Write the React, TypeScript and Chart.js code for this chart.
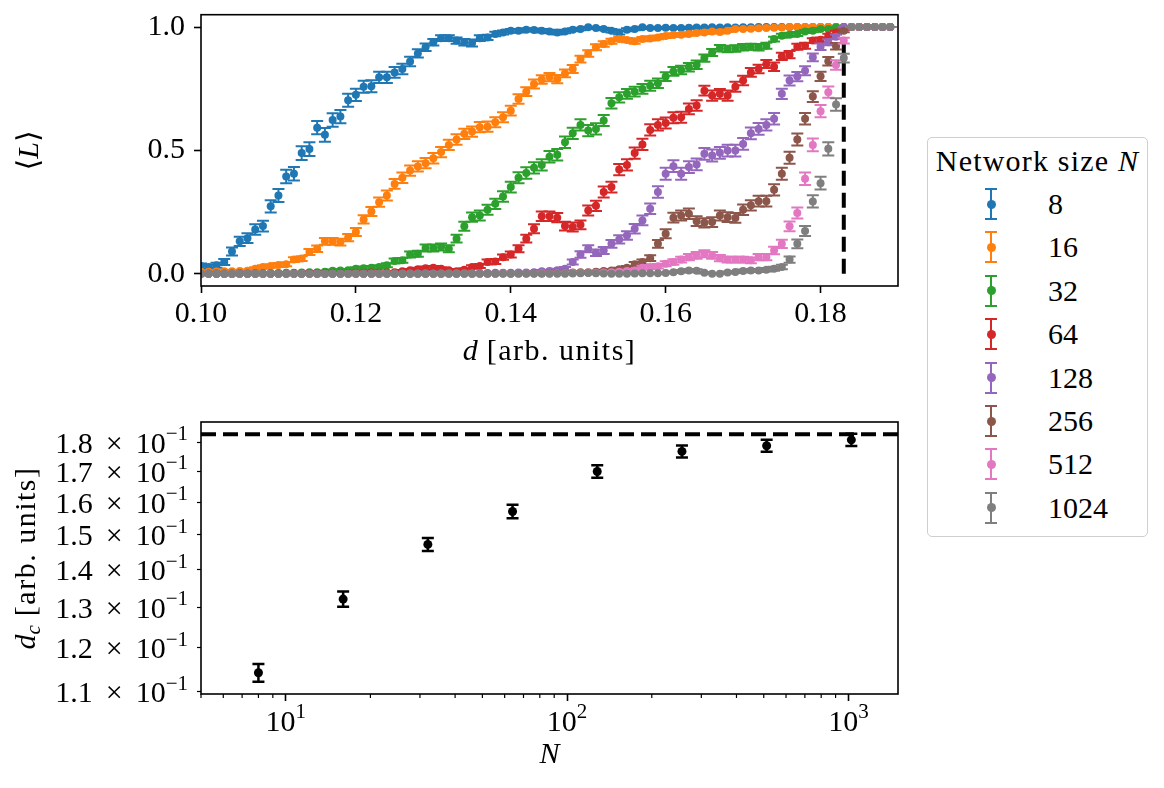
import React, { useEffect, useRef } from 'react';
import { Chart, registerables } from 'chart.js';

Chart.register(...registerables);

const FONT = "'Liberation Serif', 'DejaVu Serif', serif";
const FS = 30;
const TEXT_LS = 1.5;

// ---------- top panel: <L> versus d ----------
const D_VALUES = [
  0.100, 0.101, 0.102, 0.103, 0.104, 0.105, 0.106, 0.107, 0.108, 0.109,
  0.110, 0.111, 0.112, 0.113, 0.114, 0.115, 0.116, 0.117, 0.118, 0.119,
  0.120, 0.121, 0.122, 0.123, 0.124, 0.125, 0.126, 0.127, 0.128, 0.129,
  0.130, 0.131, 0.132, 0.133, 0.134, 0.135, 0.136, 0.137, 0.138, 0.139,
  0.140, 0.141, 0.142, 0.143, 0.144, 0.145, 0.146, 0.147, 0.148, 0.149,
  0.150, 0.151, 0.152, 0.153, 0.154, 0.155, 0.156, 0.157, 0.158, 0.159,
  0.160, 0.161, 0.162, 0.163, 0.164, 0.165, 0.166, 0.167, 0.168, 0.169,
  0.170, 0.171, 0.172, 0.173, 0.174, 0.175, 0.176, 0.177, 0.178, 0.179,
  0.180, 0.181, 0.182, 0.183, 0.184, 0.185, 0.186, 0.187, 0.188, 0.189,
];

const L_N8 = [
  0.031, 0.027, 0.034, 0.047, 0.090, 0.131, 0.144, 0.179, 0.193, 0.273,
  0.317, 0.394, 0.405, 0.489, 0.505, 0.592, 0.563, 0.623, 0.637, 0.703,
  0.725, 0.758, 0.760, 0.796, 0.796, 0.816, 0.830, 0.860, 0.893, 0.918,
  0.938, 0.955, 0.955, 0.945, 0.938, 0.935, 0.955, 0.958, 0.972, 0.978,
  0.985, 0.985, 0.989, 0.988, 0.985, 0.982, 0.978, 0.982, 0.989, 0.992,
  0.999, 0.996, 0.992, 0.985, 0.978, 0.989, 0.992, 0.999, 0.996, 0.996,
  0.997, 0.996, 0.996, 0.997, 0.998, 0.998, 0.999, 0.998, 0.999, 0.998,
  0.999, 0.999, 1, 1, 1, 1, 1, 1, 1, 1,
  1, 1, 1, 1, 1, 1, 1, 1, 1, 1,
];
const E_N8 = [
  10, 9, 10, 12, 16, 19, 20, 21, 22, 25,
  26, 27, 27, 28, 28, 27, 28, 27, 27, 26,
  25, 24, 24, 23, 23, 22, 21, 19, 17, 15,
  13, 12, 12, 13, 13, 14, 12, 11, 9, 8,
  7, 7, 6, 6, 7, 7, 8, 7, 6, 5,
  2, 4, 5, 7, 8, 6, 5, 2, 4, 4,
  3, 4, 4, 3, 3, 3, 2, 3, 2, 3,
  2, 2, 0, 0, 0, 0, 0, 0, 0, 0,
  0, 0, 0, 0, 0, 0, 0, 0, 0, 0,
];

const L_N16 = [
  0.008, 0.008, 0.009, 0.010, 0.010, 0.011, 0.012, 0.020, 0.027, 0.031,
  0.035, 0.038, 0.057, 0.061, 0.088, 0.101, 0.131, 0.131, 0.128, 0.146,
  0.169, 0.220, 0.252, 0.290, 0.317, 0.364, 0.389, 0.418, 0.435, 0.448,
  0.468, 0.493, 0.522, 0.544, 0.567, 0.576, 0.594, 0.596, 0.614, 0.634,
  0.661, 0.708, 0.738, 0.769, 0.787, 0.797, 0.789, 0.812, 0.830, 0.870,
  0.893, 0.918, 0.931, 0.942, 0.951, 0.947, 0.942, 0.951, 0.954, 0.958,
  0.964, 0.968, 0.969, 0.972, 0.976, 0.978, 0.982, 0.980, 0.985, 0.992,
  0.992, 0.993, 0.995, 0.996, 0.997, 0.998, 1, 1, 1, 1,
  1, 1, 1, 1, 1, 1, 1, 1, 1, 1,
];
const E_N16 = [
  4, 4, 4, 4, 4, 4, 5, 6, 7, 7,
  8, 8, 10, 10, 12, 13, 14, 14, 14, 15,
  16, 17, 18, 19, 20, 20, 21, 21, 21, 21,
  21, 21, 21, 21, 21, 21, 21, 21, 20, 20,
  20, 19, 18, 18, 17, 17, 17, 16, 16, 14,
  13, 12, 11, 10, 9, 9, 10, 9, 9, 8,
  8, 7, 7, 7, 6, 6, 6, 6, 5, 4,
  4, 4, 3, 3, 2, 2, 0, 0, 0, 0,
  0, 0, 0, 0, 0, 0, 0, 0, 0, 0,
];

const L_N32 = [
  0.000, 0.001, 0.000, 0.001, 0.001, 0.002, 0.001, 0.002, 0.002, 0.003,
  0.003, 0.004, 0.004, 0.005, 0.006, 0.006, 0.008, 0.012, 0.013, 0.014,
  0.020, 0.022, 0.024, 0.027, 0.034, 0.051, 0.054, 0.078, 0.081, 0.104,
  0.104, 0.108, 0.101, 0.142, 0.192, 0.229, 0.236, 0.259, 0.283, 0.313,
  0.351, 0.389, 0.408, 0.429, 0.441, 0.474, 0.482, 0.533, 0.569, 0.603,
  0.580, 0.587, 0.621, 0.691, 0.715, 0.729, 0.738, 0.749, 0.762, 0.772,
  0.799, 0.820, 0.826, 0.837, 0.847, 0.874, 0.897, 0.914, 0.911, 0.913,
  0.918, 0.920, 0.918, 0.924, 0.951, 0.965, 0.969, 0.972, 0.982, 0.985,
  0.992, 0.992, 0.999, 1, 1, 1, 1, 1, 1, 1,
];
const E_N32 = [
  0, 1, 0, 1, 1, 2, 1, 2, 2, 3,
  3, 3, 3, 3, 4, 4, 4, 5, 5, 5,
  6, 7, 7, 7, 8, 10, 10, 12, 12, 14,
  14, 14, 14, 16, 18, 19, 20, 20, 21, 21,
  22, 22, 23, 23, 23, 23, 23, 23, 23, 23,
  23, 23, 22, 21, 21, 20, 20, 20, 20, 19,
  18, 18, 17, 17, 17, 15, 14, 13, 13, 13,
  13, 12, 13, 12, 10, 8, 8, 8, 6, 6,
  4, 4, 1, 0, 0, 0, 0, 0, 0, 0,
];

const L_N64 = [
  0.000, 0.000, 0.001, 0.000, 0.000, 0.001, 0.000, 0.001, 0.001, 0.000,
  0.001, 0.001, 0.002, 0.001, 0.002, 0.002, 0.003, 0.002, 0.003, 0.003,
  0.004, 0.004, 0.005, 0.004, 0.005, 0.006, 0.010, 0.014, 0.018, 0.022,
  0.024, 0.020, 0.014, 0.010, 0.016, 0.027, 0.031, 0.047, 0.049, 0.067,
  0.078, 0.101, 0.142, 0.182, 0.233, 0.233, 0.227, 0.193, 0.189, 0.198,
  0.256, 0.275, 0.331, 0.351, 0.422, 0.441, 0.489, 0.524, 0.583, 0.603,
  0.611, 0.632, 0.634, 0.668, 0.682, 0.742, 0.722, 0.729, 0.722, 0.758,
  0.783, 0.816, 0.830, 0.850, 0.839, 0.881, 0.888, 0.920, 0.924, 0.945,
  0.948, 0.965, 0.978, 0.992, 1, 1, 1, 1, 1, 1,
];
const E_N64 = [
  0, 0, 1, 0, 0, 1, 0, 1, 1, 0,
  1, 1, 2, 1, 2, 2, 3, 2, 3, 3,
  3, 3, 3, 3, 3, 4, 5, 5, 6, 7,
  7, 6, 5, 5, 6, 7, 8, 10, 10, 11,
  12, 14, 16, 18, 19, 19, 19, 18, 18, 18,
  20, 21, 22, 22, 23, 23, 23, 23, 23, 23,
  22, 22, 22, 22, 21, 20, 21, 20, 21, 20,
  19, 18, 17, 16, 17, 15, 15, 12, 12, 10,
  10, 8, 7, 4, 0, 0, 0, 0, 0, 0,
];

const L_N128 = [
  0, 0, 0, 0, 0, 0, 0, 0, 0, 0,
  0, 0, 0, 0, 0, 0, 0, 0, 0, 0,
  0.001, 0, 0.001, 0, 0.001, 0.001, 0, 0.001, 0.001, 0.002,
  0.001, 0.002, 0.002, 0.002, 0.003, 0.002, 0.003, 0.003, 0.004, 0.004,
  0.004, 0.005, 0.005, 0.006, 0.010, 0.011, 0.014, 0.020, 0.047, 0.078,
  0.101, 0.085, 0.094, 0.121, 0.139, 0.155, 0.182, 0.216, 0.263, 0.331,
  0.405, 0.436, 0.405, 0.432, 0.443, 0.486, 0.479, 0.490, 0.499, 0.499,
  0.526, 0.569, 0.587, 0.603, 0.628, 0.729, 0.783, 0.799, 0.823, 0.877,
  0.920, 0.938, 0.961, 0.999, 1, 1, 1, 1, 1, 1,
];
const E_N128 = [
  0, 0, 0, 0, 0, 0, 0, 0, 0, 0,
  0, 0, 0, 0, 0, 0, 0, 0, 0, 0,
  1, 0, 1, 0, 1, 1, 0, 1, 1, 2,
  1, 2, 2, 2, 3, 2, 3, 3, 3, 3,
  3, 3, 3, 4, 5, 5, 6, 7, 10, 13,
  14, 13, 14, 16, 17, 17, 19, 20, 21, 23,
  24, 24, 24, 24, 24, 24, 24, 24, 24, 24,
  24, 24, 24, 23, 23, 21, 20, 19, 18, 16,
  13, 12, 9, 2, 0, 0, 0, 0, 0, 0,
];

const L_N256 = [
  0, 0, 0, 0, 0, 0, 0, 0, 0, 0,
  0, 0, 0, 0, 0, 0, 0, 0, 0, 0,
  0, 0, 0, 0, 0, 0, 0, 0, 0, 0,
  0, 0, 0.001, 0, 0.001, 0, 0.001, 0.001, 0.001, 0.002,
  0.001, 0.002, 0.002, 0.003, 0.002, 0.003, 0.004, 0.004, 0.005, 0.006,
  0.006, 0.008, 0.011, 0.013, 0.018, 0.024, 0.038, 0.047, 0.063, 0.121,
  0.162, 0.227, 0.236, 0.243, 0.213, 0.206, 0.209, 0.236, 0.229, 0.226,
  0.259, 0.277, 0.294, 0.294, 0.340, 0.405, 0.470, 0.544, 0.628, 0.718,
  0.800, 0.861, 0.922, 0.985, 1, 1, 1, 1, 1, 1,
];
const E_N256 = [
  0, 0, 0, 0, 0, 0, 0, 0, 0, 0,
  0, 0, 0, 0, 0, 0, 0, 0, 0, 0,
  0, 0, 0, 0, 0, 0, 0, 0, 0, 0,
  0, 0, 1, 0, 1, 0, 1, 1, 1, 2,
  1, 2, 2, 3, 2, 3, 3, 3, 3, 4,
  4, 4, 5, 5, 6, 7, 9, 10, 12, 16,
  18, 20, 20, 21, 20, 19, 20, 20, 20, 20,
  21, 21, 22, 22, 23, 24, 24, 24, 23, 22,
  19, 17, 13, 6, 0, 0, 0, 0, 0, 0,
];

const L_N512 = [
  0, 0, 0, 0, 0, 0, 0, 0, 0, 0,
  0, 0, 0, 0, 0, 0, 0, 0, 0, 0,
  0, 0, 0, 0, 0, 0, 0, 0, 0, 0,
  0, 0, 0, 0, 0, 0, 0, 0, 0, 0.001,
  0, 0.001, 0.001, 0.001, 0.002, 0.001, 0.002, 0.002, 0.003, 0.003,
  0.004, 0.004, 0.005, 0.006, 0.008, 0.011, 0.013, 0.024, 0.027, 0.030,
  0.040, 0.047, 0.057, 0.067, 0.074, 0.081, 0.074, 0.063, 0.057, 0.057,
  0.057, 0.054, 0.067, 0.067, 0.094, 0.121, 0.192, 0.246, 0.385, 0.522,
  0.659, 0.736, 0.846, 0.945, 1, 1, 1, 1, 1, 1,
];
const E_N512 = [
  0, 0, 0, 0, 0, 0, 0, 0, 0, 0,
  0, 0, 0, 0, 0, 0, 0, 0, 0, 0,
  0, 0, 0, 0, 0, 0, 0, 0, 0, 0,
  0, 0, 0, 0, 0, 0, 0, 0, 0, 1,
  0, 1, 1, 1, 2, 1, 2, 2, 3, 3,
  3, 3, 4, 4, 5, 5, 6, 8, 8, 9,
  10, 11, 12, 13, 14, 14, 14, 13, 12, 12,
  12, 12, 13, 13, 15, 17, 20, 22, 25, 26,
  25, 23, 19, 12, 0, 0, 0, 0, 0, 0,
];

const L_N1024 = [
  0, 0, 0, 0, 0, 0, 0, 0, 0, 0,
  0, 0, 0, 0, 0, 0, 0, 0, 0, 0,
  0, 0, 0, 0, 0, 0, 0, 0, 0, 0,
  0, 0, 0, 0, 0, 0, 0, 0, 0, 0,
  0, 0, 0, 0, 0, 0, 0, 0, 0.001, 0.002,
  0.003, 0.002, 0.001, 0, 0, 0, 0.001, 0.002, 0.002, 0.002,
  0.003, 0.006, 0.010, 0.013, 0.012, 0.004, 0.000, 0.000, 0.005, 0.007,
  0.011, 0.013, 0.013, 0.016, 0.020, 0.027, 0.057, 0.121, 0.173, 0.293,
  0.367, 0.506, 0.686, 0.874, 1, 1, 1, 1, 1, 1,
];
const E_N1024 = [
  0, 0, 0, 0, 0, 0, 0, 0, 0, 0,
  0, 0, 0, 0, 0, 0, 0, 0, 0, 0,
  0, 0, 0, 0, 0, 0, 0, 0, 0, 0,
  0, 0, 0, 0, 0, 0, 0, 0, 0, 0,
  0, 0, 0, 0, 0, 0, 0, 0, 1, 1,
  2, 1, 1, 0, 0, 0, 1, 1, 1, 1,
  2, 3, 5, 6, 6, 3, 0, 0, 4, 4,
  6, 6, 6, 7, 8, 9, 13, 18, 20, 25,
  26, 27, 25, 18, 0, 0, 0, 0, 0, 0,
];

const SIZE_LABELS = ['8', '16', '32', '64', '128', '256', '512', '1024'];
const SERIES_COLORS = ['#1f77b4', '#ff7f0e', '#2ca02c', '#d62728', '#9467bd', '#8c564b', '#e377c2', '#7f7f7f'];
const SERIES_VALUES = [L_N8, L_N16, L_N32, L_N64, L_N128, L_N256, L_N512, L_N1024];
const SERIES_ERRORS_MILLI = [E_N8, E_N16, E_N32, E_N64, E_N128, E_N256, E_N512, E_N1024];

const TOP_X_TICKS = [0.10, 0.12, 0.14, 0.16, 0.18];
const TOP_Y_TICKS = [0.0, 0.5, 1.0];

// ---------- bottom panel: d_c versus N ----------
const N_SIZES = [8, 16, 32, 64, 128, 256, 512, 1024];
const DC_VALUES = [0.1142, 0.1321, 0.1472, 0.1571, 0.1700, 0.1769, 0.1789, 0.1810];
const DC_ERRORS = [0.0020, 0.0020, 0.0019, 0.0021, 0.0021, 0.0021, 0.0021, 0.0022];
const DC_INF = 0.183;
const BOTTOM_X_TICKS = [10, 100, 1000];
const BOTTOM_X_MINOR = [5, 6, 7, 8, 9, 20, 30, 40, 50, 60, 70, 80, 90, 200, 300, 400, 500, 600, 700, 800, 900];
const BOTTOM_Y_TICKS = [0.11, 0.12, 0.13, 0.14, 0.15, 0.16, 0.17, 0.18];

type Seg = { t: string; it?: boolean; sub?: boolean; sup?: boolean; gap?: number; ls?: number };

function segFont(s: Seg, size: number) {
  const sz = s.sub || s.sup ? size * 0.7 : size;
  return `${s.it ? 'italic ' : ''}${sz}px ${FONT}`;
}

function drawRich(ctx: CanvasRenderingContext2D, segs: Seg[], x: number, y: number, size: number, align: string, rotate = false) {
  ctx.save();
  ctx.translate(x, y);
  if (rotate) ctx.rotate(-Math.PI / 2);
  const anyCtx = ctx as any;
  let total = 0;
  const widths = segs.map((s) => {
    if (s.gap !== undefined) {
      total += s.gap;
      return s.gap;
    }
    ctx.font = segFont(s, size);
    anyCtx.letterSpacing = `${s.ls || 0}px`;
    const w = ctx.measureText(s.t).width;
    total += w;
    return w;
  });
  let cx = align === 'center' ? -total / 2 : align === 'right' ? -total : 0;
  ctx.textBaseline = 'middle';
  ctx.textAlign = 'left';
  ctx.fillStyle = '#000';
  segs.forEach((s, i) => {
    if (s.gap === undefined) {
      ctx.font = segFont(s, size);
      anyCtx.letterSpacing = `${s.ls || 0}px`;
      const dy = s.sub ? size * 0.24 : s.sup ? -size * 0.34 : 0;
      ctx.fillText(s.t, cx, dy);
    }
    cx += widths[i];
  });
  anyCtx.letterSpacing = '0px';
  ctx.restore();
}

const errorBarPlugin = {
  id: 'errorBars',
  beforeDatasetDraw(chart: any, args: any) {
    const ds = chart.data.datasets[args.index];
    if (!ds.errs) return;
    const { ctx, chartArea, scales } = chart;
    const xs = scales.x;
    const ys = scales.y;
    ctx.save();
    ctx.beginPath();
    ctx.rect(chartArea.left, chartArea.top, chartArea.right - chartArea.left, chartArea.bottom - chartArea.top);
    ctx.clip();
    ctx.strokeStyle = ds.backgroundColor;
    ctx.lineWidth = ds.errWidth;
    const cap = ds.capHalf;
    ds.data.forEach((p: any, i: number) => {
      const e = ds.errs[i];
      const px = xs.getPixelForValue(p.x);
      const y1 = ys.getPixelForValue(p.y - e);
      const y2 = ys.getPixelForValue(p.y + e);
      ctx.beginPath();
      ctx.moveTo(px, y1);
      ctx.lineTo(px, y2);
      ctx.moveTo(px - cap, y1);
      ctx.lineTo(px + cap, y1);
      ctx.moveTo(px - cap, y2);
      ctx.lineTo(px + cap, y2);
      ctx.stroke();
    });
    ctx.restore();
  },
};

const framePlugin = {
  id: 'frame',
  afterDatasetsDraw(chart: any) {
    const { ctx, chartArea } = chart;
    ctx.save();
    ctx.strokeStyle = '#000';
    ctx.lineWidth = 1.6;
    ctx.strokeRect(chartArea.left, chartArea.top, chartArea.right - chartArea.left, chartArea.bottom - chartArea.top);
    ctx.restore();
  },
};

const tickGrid = (len: number) => ({
  display: true,
  drawOnChartArea: false,
  drawTicks: true,
  tickLength: len,
  tickColor: '#000',
  tickWidth: 1.6,
});

function Legend() {
  const left = 927;
  const top = 137;
  return (
    <div
      style={{
        position: 'absolute',
        left,
        top,
        width: 221,
        height: 400,
        border: '1px solid #cfcfcf',
        borderRadius: 5,
        boxSizing: 'border-box',
        background: '#fff',
        fontFamily: FONT,
        fontSize: FS,
        color: '#000',
      }}
    >
      <div style={{ position: 'absolute', left: 0, right: 0, top: 161 - top - 18, lineHeight: '34px', textAlign: 'center', whiteSpace: 'nowrap', letterSpacing: '1.2px' }}>
        Network size <i>N</i>
      </div>
      {SIZE_LABELS.map((lab, i) => {
        const yc = 204 + i * 43.4 - top - 1;
        const c = SERIES_COLORS[i];
        return (
          <React.Fragment key={lab}>
            <div style={{ position: 'absolute', left: 991 - left - 7, top: yc - 16, width: 12, height: 32 }}>
              <div style={{ position: 'absolute', left: 5, top: 0, width: 2, height: 32, background: c }} />
              <div style={{ position: 'absolute', left: 0, top: 0, width: 12, height: 2, background: c }} />
              <div style={{ position: 'absolute', left: 0, top: 30, width: 12, height: 2, background: c }} />
              <div style={{ position: 'absolute', left: 1.5, top: 11.5, width: 9, height: 9, borderRadius: '50%', background: c }} />
            </div>
            <div style={{ position: 'absolute', left: 1048 - left - 1, top: yc - 17, lineHeight: '34px', whiteSpace: 'nowrap' }}>{lab}</div>
          </React.Fragment>
        );
      })}
    </div>
  );
}

export default function App() {
  const topRef = useRef<HTMLCanvasElement>(null);
  const botRef = useRef<HTMLCanvasElement>(null);

  useEffect(() => {
    const topCanvas = topRef.current!;
    const botCanvas = botRef.current!;

    const topDatasets = SERIES_VALUES.map((vals, s) => ({
      label: SIZE_LABELS[s],
      data: vals.map((v, i) => ({ x: D_VALUES[i], y: v })),
      errs: SERIES_ERRORS_MILLI[s].map((e) => e / 1000),
      errWidth: 2,
      capHalf: 6,
      backgroundColor: SERIES_COLORS[s],
      borderColor: SERIES_COLORS[s],
      pointRadius: 4,
      pointBorderWidth: 0,
      pointHoverRadius: 4,
      order: SERIES_VALUES.length - 1 - s,
    }));

    const topChart = new Chart(topCanvas, {
      type: 'scatter',
      data: { datasets: topDatasets as any },
      options: {
        animation: false,
        responsive: false,
        devicePixelRatio: 1,
        events: [],
        layout: { padding: { left: 0, right: 12, top: 14.7, bottom: 0 } },
        plugins: { legend: { display: false }, tooltip: { enabled: false } },
        scales: {
          x: {
            type: 'linear',
            min: 0.1,
            max: 0.19,
            afterBuildTicks: (sc: any) => {
              sc.ticks = TOP_X_TICKS.map((v) => ({ value: v }));
            },
            afterFit: (sc: any) => {
              sc.height = 104;
              sc.paddingLeft = 0;
              sc.paddingRight = 0;
            },
            ticks: {
              callback: (v: any) => Number(v).toFixed(2),
              font: { size: FS, family: FONT },
              color: '#000',
              padding: 3,
              maxRotation: 0,
              autoSkip: false,
            },
            grid: tickGrid(7),
            border: { display: false },
          },
          y: {
            type: 'linear',
            min: -0.05,
            max: 1.05,
            afterBuildTicks: (sc: any) => {
              sc.ticks = TOP_Y_TICKS.map((v) => ({ value: v }));
            },
            afterFit: (sc: any) => {
              sc.width = 201;
              sc.paddingTop = 0;
              sc.paddingBottom = 0;
            },
            ticks: {
              callback: (v: any) => Number(v).toFixed(1),
              font: { size: FS, family: FONT },
              color: '#000',
              padding: 9,
              autoSkip: false,
            },
            grid: tickGrid(7),
            border: { display: false },
          },
        },
      } as any,
      plugins: [
        {
          id: 'vline',
          beforeDatasetsDraw(chart: any) {
            const { ctx, scales } = chart;
            const x = scales.x.getPixelForValue(DC_INF);
            ctx.save();
            ctx.strokeStyle = '#000';
            ctx.lineWidth = 4;
            ctx.setLineDash([15, 7]);
            ctx.beginPath();
            ctx.moveTo(x, scales.y.getPixelForValue(0));
            ctx.lineTo(x, scales.y.getPixelForValue(1));
            ctx.stroke();
            ctx.restore();
          },
        },
        errorBarPlugin,
        framePlugin,
        {
          id: 'titlesTop',
          afterDraw(chart: any) {
            const { ctx, chartArea } = chart;
            const cx = (chartArea.left + chartArea.right) / 2;
            drawRich(ctx, [{ t: 'd', it: true }, { t: ' [arb. units]', ls: TEXT_LS }], cx, 352, FS, 'center');
            drawRich(ctx, [{ t: '⟨' }, { t: 'L', it: true }, { t: '⟩' }], 30, (chartArea.top + chartArea.bottom) / 2, FS, 'center', true);
          },
        },
      ],
    });

    const botChart = new Chart(botCanvas, {
      type: 'scatter',
      data: {
        datasets: [
          {
            label: 'dc',
            data: N_SIZES.map((n, i) => ({ x: n, y: DC_VALUES[i] })),
            errs: DC_ERRORS,
            errWidth: 2.5,
            capHalf: 6,
            backgroundColor: '#000',
            borderColor: '#000',
            pointRadius: 4.5,
            pointBorderWidth: 0,
            pointHoverRadius: 4.5,
          } as any,
        ],
      },
      options: {
        animation: false,
        responsive: false,
        devicePixelRatio: 1,
        events: [],
        layout: { padding: { left: 0, right: 12, top: 27, bottom: 0 } },
        plugins: { legend: { display: false }, tooltip: { enabled: false } },
        scales: {
          x: {
            type: 'logarithmic',
            min: 5,
            max: 1500,
            afterBuildTicks: (sc: any) => {
              sc.ticks = BOTTOM_X_TICKS.map((v) => ({ value: v, major: true }));
            },
            afterFit: (sc: any) => {
              sc.height = 94;
              sc.paddingLeft = 0;
              sc.paddingRight = 0;
            },
            ticks: { callback: () => '', autoSkip: false, maxRotation: 0, padding: 0 },
            grid: tickGrid(7),
            border: { display: false },
          },
          y: {
            type: 'logarithmic',
            min: 0.1095,
            max: 0.1875,
            afterBuildTicks: (sc: any) => {
              sc.ticks = BOTTOM_Y_TICKS.map((v) => ({ value: v }));
            },
            afterFit: (sc: any) => {
              sc.width = 201;
              sc.paddingTop = 0;
              sc.paddingBottom = 0;
            },
            ticks: { callback: () => '', autoSkip: false, padding: 0 },
            grid: { ...tickGrid(4), tickWidth: 1.2 },
            border: { display: false },
          },
        },
      } as any,
      plugins: [
        {
          id: 'hline',
          beforeDatasetsDraw(chart: any) {
            const { ctx, scales, chartArea } = chart;
            const y = scales.y.getPixelForValue(DC_INF);
            ctx.save();
            ctx.strokeStyle = '#000';
            ctx.lineWidth = 4;
            ctx.setLineDash([15, 7]);
            ctx.beginPath();
            ctx.moveTo(chartArea.left, y);
            ctx.lineTo(chartArea.right, y);
            ctx.stroke();
            ctx.restore();
          },
        },
        errorBarPlugin,
        framePlugin,
        {
          id: 'labelsBottom',
          afterDraw(chart: any) {
            const { ctx, chartArea, scales } = chart;
            ctx.save();
            ctx.strokeStyle = '#000';
            ctx.lineWidth = 1.2;
            BOTTOM_X_MINOR.forEach((v) => {
              const px = scales.x.getPixelForValue(v);
              ctx.beginPath();
              ctx.moveTo(px, chartArea.bottom);
              ctx.lineTo(px, chartArea.bottom + 4);
              ctx.stroke();
            });
            ctx.restore();
            BOTTOM_X_TICKS.forEach((v) => {
              const px = scales.x.getPixelForValue(v);
              const exp = String(Math.round(Math.log10(v)));
              drawRich(ctx, [{ t: '10' }, { t: exp, sup: true }], px, chartArea.bottom + 29, FS, 'center');
            });
            BOTTOM_Y_TICKS.forEach((v) => {
              const py = scales.y.getPixelForValue(v);
              drawRich(
                ctx,
                [{ t: (v * 10).toFixed(1) }, { gap: 13 }, { t: '×' }, { gap: 13 }, { t: '10' }, { t: '−1', sup: true }],
                188,
                py + 2.5,
                FS,
                'right',
              );
            });
            const cx = (chartArea.left + chartArea.right) / 2;
            drawRich(ctx, [{ t: 'N', it: true }], cx, 360, FS, 'center');
            drawRich(
              ctx,
              [{ t: 'd', it: true }, { t: 'c', it: true, sub: true }, { t: ' [arb. units]', ls: TEXT_LS }],
              27,
              (chartArea.top + chartArea.bottom) / 2,
              FS,
              'center',
              true,
            );
          },
        },
      ],
    });

    return () => {
      topChart.destroy();
      botChart.destroy();
    };
  }, []);

  return (
    <div style={{ position: 'fixed', left: 0, top: 0, width: 1164, height: 788, background: '#fff', overflow: 'hidden' }}>
      <canvas ref={topRef} width={910} height={390} style={{ position: 'absolute', left: 0, top: 0, width: 910, height: 390 }} />
      <canvas ref={botRef} width={910} height={393} style={{ position: 'absolute', left: 0, top: 395, width: 910, height: 393 }} />
      <Legend />
    </div>
  );
}
